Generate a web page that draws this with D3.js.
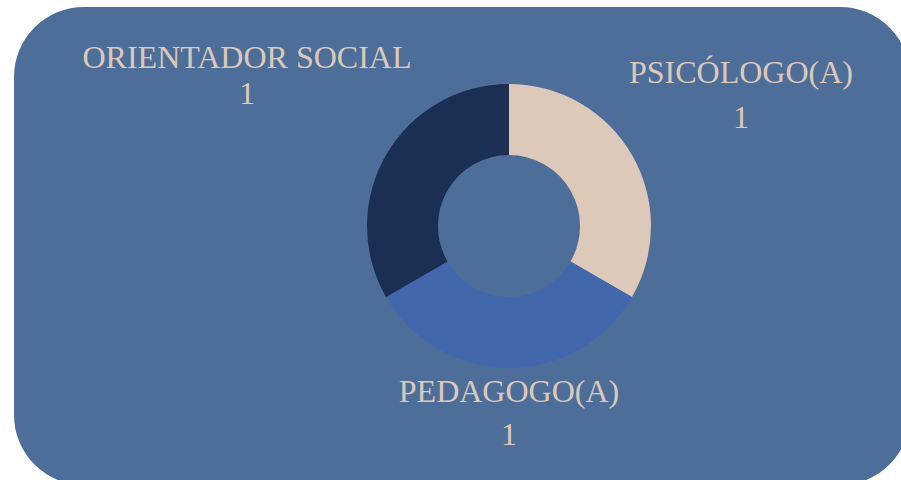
<!DOCTYPE html>
<html><head><meta charset="utf-8">
<script src="https://cdn.jsdelivr.net/npm/d3@7"></script>
<style>html,body{margin:0;padding:0;background:#fff;}svg{display:block;}</style>
</head><body>
<svg id="chart" width="901" height="480"></svg>
<script>
const categories = ["PSICÓLOGO(A)", "PEDAGOGO(A)", "ORIENTADOR SOCIAL"];
const values = [1, 1, 1];
const colors = ["#DCC9B9", "#4367AC", "#1B2E54"];
// label anchor positions (label centre x, name baseline, value baseline)
const labelX = [741, 509, 247];
const labelY = [83, 402, 68];
const valueY = [128, 445, 104];

const svg = d3.select("#chart");
svg.append("rect")
  .attr("x", 14).attr("y", 7)
  .attr("width", 896).attr("height", 478)
  .attr("rx", 70).attr("ry", 70)
  .attr("fill", "#4E6E9A");

const cx = 509, cy = 226;
const pie = d3.pie().sort(null).value(d => d.v);
const arc = d3.arc().innerRadius(71).outerRadius(142);
const data = categories.map((c, i) => ({c, v: values[i], i}));

const g = svg.append("g").attr("transform", `translate(${cx},${cy})`);
g.selectAll("path").data(pie(data)).join("path")
  .attr("d", arc)
  .attr("fill", d => colors[d.data.i]);

const lab = svg.append("g")
  .attr("font-family", "'Liberation Serif', 'Times New Roman', serif")
  .attr("font-size", 32)
  .attr("fill", "#DCC9B9")
  .attr("text-anchor", "middle");
data.forEach((d, i) => {
  lab.append("text").attr("x", labelX[i]).attr("y", labelY[i]).text(d.c);
  lab.append("text").attr("x", labelX[i]).attr("y", valueY[i]).text(d.v);
});
</script>
</body></html>
